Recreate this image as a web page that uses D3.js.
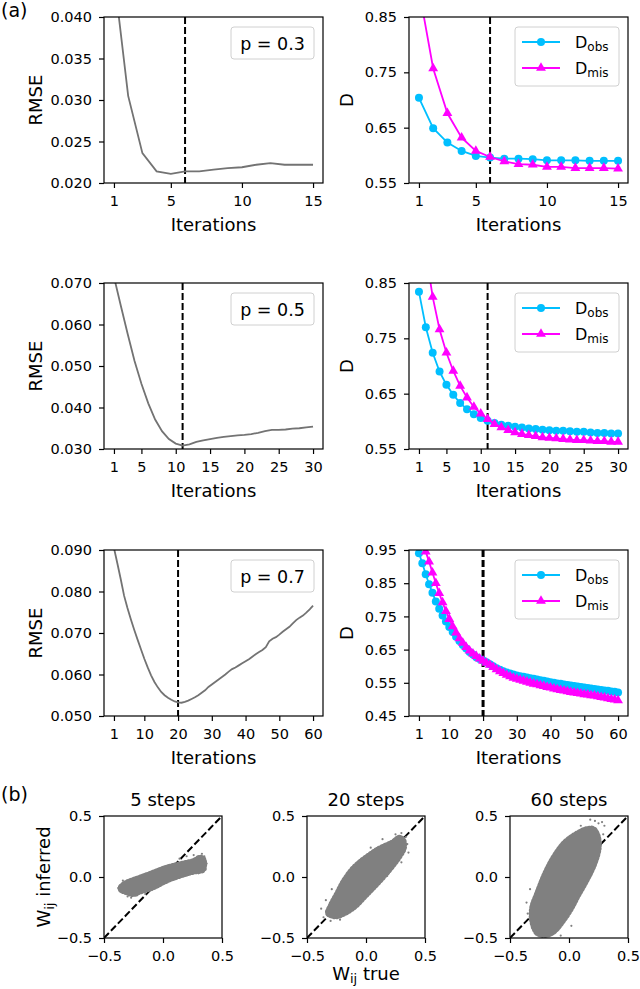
<!DOCTYPE html>
<html>
<head>
<meta charset="utf-8">
<script src="https://d3js.org/d3.v7.min.js"></script>
<style>
  body { margin: 0; background: #fff; }
  svg text { fill: #000; }
</style>
</head>
<body>
<script>
// ---------- values ----------
// (a) p = 0.3, 15 iterations
var rmseP3 = [0.0450, 0.0305, 0.0236, 0.0214, 0.0211, 0.0214, 0.0214, 0.0216, 0.0218, 0.0219, 0.0222, 0.0224, 0.0222, 0.0222, 0.0222];
var dObsP3 = [0.704, 0.649, 0.623, 0.608, 0.599, 0.596, 0.594, 0.594, 0.593, 0.591, 0.591, 0.591, 0.590, 0.590, 0.590];
var dMisP3 = [0.900, 0.757, 0.676, 0.632, 0.608, 0.597, 0.589, 0.584, 0.583, 0.579, 0.579, 0.577, 0.577, 0.577, 0.576];

// (a) p = 0.5, 30 iterations
var rmseP5 = [0.0715, 0.0645, 0.0577, 0.0512, 0.0457, 0.0410, 0.0371, 0.0343, 0.0324, 0.0313,
              0.0308, 0.0311, 0.0317, 0.0321, 0.0324, 0.0327, 0.0329, 0.0331, 0.0333, 0.0334,
              0.0336, 0.0339, 0.0343, 0.0346, 0.0346, 0.0347, 0.0349, 0.0350, 0.0352, 0.0354];
var dObsP5 = [0.834, 0.770, 0.724, 0.690, 0.666, 0.648, 0.633, 0.622, 0.613, 0.606,
              0.601, 0.597, 0.594, 0.592, 0.590, 0.589, 0.587, 0.586, 0.585, 0.584,
              0.583, 0.583, 0.582, 0.581, 0.581, 0.580, 0.579, 0.579, 0.578, 0.578];
var dMisP5 = [1.000, 0.905, 0.825, 0.766, 0.724, 0.691, 0.664, 0.643, 0.626, 0.614,
              0.604, 0.595, 0.589, 0.584, 0.580, 0.577, 0.575, 0.573, 0.571, 0.570,
              0.569, 0.568, 0.567, 0.566, 0.566, 0.565, 0.564, 0.564, 0.563, 0.563];

// (a) p = 0.7, 60 iterations
var rmseP7 = [0.0905, 0.0868, 0.0830, 0.0790, 0.0760, 0.0733, 0.0708, 0.0684, 0.0661, 0.0638,
              0.0617, 0.0598, 0.0582, 0.0569, 0.0558, 0.0550, 0.0544, 0.0539, 0.0535, 0.0533,
              0.0532, 0.0534, 0.0537, 0.0541, 0.0545, 0.0550, 0.0556, 0.0562, 0.0570, 0.0576,
              0.0582, 0.0588, 0.0594, 0.0600, 0.0607, 0.0613, 0.0617, 0.0622, 0.0627, 0.0632,
              0.0637, 0.0643, 0.0649, 0.0654, 0.0659, 0.0666, 0.0680, 0.0686, 0.0690, 0.0696,
              0.0703, 0.0709, 0.0715, 0.0723, 0.0731, 0.0737, 0.0742, 0.0749, 0.0757, 0.0766];
var dObsP7 = [0.940, 0.910, 0.877, 0.847, 0.821, 0.795, 0.773, 0.753, 0.735, 0.718,
              0.703, 0.689, 0.676, 0.664, 0.653, 0.643, 0.635, 0.627, 0.622, 0.617,
              0.612, 0.606, 0.600, 0.594, 0.589, 0.585, 0.581, 0.578, 0.575, 0.572,
              0.570, 0.568, 0.566, 0.564, 0.562, 0.560, 0.558, 0.556, 0.554, 0.552,
              0.550, 0.548, 0.547, 0.545, 0.543, 0.542, 0.540, 0.539, 0.537, 0.536,
              0.534, 0.533, 0.531, 0.530, 0.528, 0.527, 0.526, 0.524, 0.523, 0.521];
var dMisP7 = [1.030, 0.985, 0.945, 0.915, 0.882, 0.850, 0.820, 0.792, 0.766, 0.742,
              0.720, 0.701, 0.684, 0.670, 0.657, 0.647, 0.638, 0.630, 0.623, 0.616,
              0.610, 0.604, 0.597, 0.590, 0.584, 0.579, 0.574, 0.569, 0.565, 0.562,
              0.559, 0.556, 0.553, 0.550, 0.547, 0.545, 0.542, 0.540, 0.537, 0.535,
              0.532, 0.530, 0.528, 0.526, 0.524, 0.522, 0.520, 0.519, 0.517, 0.515,
              0.514, 0.512, 0.511, 0.509, 0.507, 0.505, 0.503, 0.501, 0.499, 0.497];

var cutoffs = [6, 11, 20];
var pLabels = ["p = 0.3", "p = 0.5", "p = 0.7"];

var xTicks15 = [1, 5, 10, 15];
var xTicks30 = [1, 5, 10, 15, 20, 25, 30];
var xTicks60 = [1, 10, 20, 30, 40, 50, 60];
var rmseTicksP3 = [0.020, 0.025, 0.030, 0.035, 0.040];
var rmseTicksP5 = [0.030, 0.040, 0.050, 0.060, 0.070];
var rmseTicksP7 = [0.050, 0.060, 0.070, 0.080, 0.090];
var dTicksP3 = [0.55, 0.65, 0.75, 0.85];
var dTicksP5 = [0.55, 0.65, 0.75, 0.85];
var dTicksP7 = [0.45, 0.55, 0.65, 0.75, 0.85, 0.95];

// (b) scatter clouds: outline of the dense grey core + loose points around it, [W true, W inferred]
var scatterTitles = ["5 steps", "20 steps", "60 steps"];
var scatterTicks = [-0.5, 0.0, 0.5];
var diagLine = [[-0.5, -0.5], [0.5, 0.5]];

var cloud5 = [[-0.364, -0.079], [-0.308, -0.038], [-0.195, 0.003], [-0.082, 0.044], [0.031, 0.085],
              [0.144, 0.112], [0.257, 0.139], [0.314, 0.167], [0.347, 0.153], [0.356, 0.085],
              [0.342, 0.052], [0.257, 0.035], [0.144, 0.003], [0.031, -0.038], [-0.082, -0.093],
              [-0.195, -0.128], [-0.251, -0.148], [-0.308, -0.134], [-0.364, -0.107]];
var dots5 = [[-0.38, -0.09], [-0.36, -0.12], [-0.34, -0.03], [-0.30, -0.16], [-0.27, -0.17],
             [-0.22, -0.15], [0.33, 0.19], [0.35, 0.17], [0.37, 0.11], [0.36, 0.06],
             [0.30, 0.03], [0.14, 0.15], [0.20, 0.17], [-0.15, -0.14], [0.26, 0.18]];

var cloud20 = [[-0.33, -0.30], [-0.30, -0.22], [-0.25, -0.13], [-0.195, -0.03], [-0.11, 0.08],
               [0.0, 0.17], [0.11, 0.24], [0.22, 0.29], [0.28, 0.33], [0.32, 0.31],
               [0.33, 0.24], [0.28, 0.15], [0.20, 0.05], [0.10, -0.06], [0.0, -0.16],
               [-0.08, -0.24], [-0.17, -0.30], [-0.26, -0.33]];
var dots20 = [[-0.36, -0.33], [-0.38, -0.26], [-0.30, -0.36], [-0.34, -0.19], [-0.22, -0.35],
              [0.30, 0.36], [0.34, 0.33], [0.35, 0.27], [0.25, 0.35], [0.36, 0.20],
              [0.14, 0.31], [0.04, 0.24], [-0.29, -0.10], [0.30, 0.12], [0.18, 0.01]];

var cloud60 = [[-0.28, -0.46], [-0.32, -0.36], [-0.32, -0.25], [-0.28, -0.14], [-0.20, 0.05],
               [-0.12, 0.19], [-0.04, 0.29], [0.06, 0.36], [0.15, 0.40], [0.21, 0.40],
               [0.25, 0.34], [0.26, 0.24], [0.22, 0.10], [0.15, -0.04], [0.08, -0.16],
               [0.02, -0.27], [-0.05, -0.37], [-0.12, -0.45], [-0.18, -0.48], [-0.24, -0.48]];
var dots60 = [[0.22, 0.46], [0.25, 0.44], [0.28, 0.45], [0.18, 0.47], [0.30, 0.42],
              [0.29, 0.35], [0.27, 0.28], [-0.35, -0.30], [-0.36, -0.21], [-0.31, -0.42],
              [-0.20, -0.49], [-0.07, -0.48], [0.02, -0.40], [-0.33, -0.10], [0.10, 0.42], [0.24, 0.18]];

// ---------- layout ----------
var rowTops = [17, 283, 550], rowH = 166;
var leftX = 104, rightX = 409, panelW = 219;
var grey = "#737373", blue = "#00bfff", magenta = "#ff00ff";

var svg = d3.select("body").append("svg")
	.attr("width", 640).attr("height", 989)
	.style("font-family", "'DejaVu Sans', sans-serif");
var defs = svg.append("defs");
var clipCount = 0;

function makeAxes(x0, y0, w, h) {
	var id = "clip" + (clipCount++);
	defs.append("clipPath").attr("id", id).append("rect").attr("width", w).attr("height", h);
	var g = svg.append("g").attr("transform", "translate(" + x0 + "," + y0 + ")");
	var plot = g.append("g").attr("clip-path", "url(#" + id + ")");
	return {g: g, plot: plot, w: w, h: h};
}

function finishAxes(ax, x, y, xTicks, yTicks, xFmt, yFmt) {
	var gx = ax.g.append("g").attr("transform", "translate(0," + ax.h + ")")
		.call(d3.axisBottom(x).tickValues(xTicks).tickFormat(xFmt).tickSize(5).tickPadding(8));
	var gy = ax.g.append("g")
		.call(d3.axisLeft(y).tickValues(yTicks).tickFormat(yFmt).tickSize(5).tickPadding(7));
	[gx, gy].forEach(function(a) {
		a.attr("font-family", null).attr("font-size", null);
		a.select(".domain").remove();
		a.selectAll(".tick line").attr("stroke", "#000").attr("stroke-width", 1.2);
		a.selectAll(".tick text").attr("fill", "#000").style("font-size", "14.5px");
	});
	// frame (all four spines)
	ax.g.append("rect").attr("width", ax.w).attr("height", ax.h)
		.attr("fill", "none").attr("stroke", "#000").attr("stroke-width", 1.2);
}

// x scale with matplotlib's 5% margin
function iterScale(n, w) {
	var pad = (n - 1) * 0.05;
	return d3.scaleLinear().domain([1 - pad, n + pad]).range([0, w]);
}

function vLabel(x, y, str) {
	svg.append("text")
		.attr("transform", "translate(" + x + "," + y + ") rotate(-90)")
		.attr("text-anchor", "middle").style("font-size", "18px").text(str);
}

var rows = [
	{n: 15, rmse: rmseP3, obs: dObsP3, mis: dMisP3, rT: rmseTicksP3, dT: dTicksP3, xT: xTicks15},
	{n: 30, rmse: rmseP5, obs: dObsP5, mis: dMisP5, rT: rmseTicksP5, dT: dTicksP5, xT: xTicks30},
	{n: 60, rmse: rmseP7, obs: dObsP7, mis: dMisP7, rT: rmseTicksP7, dT: dTicksP7, xT: xTicks60}
];

rows.forEach(function(r, i) {
	var top = rowTops[i];
	var idx = d3.range(1, r.n + 1);
	var x = iterScale(r.n, panelW);

	// ----- RMSE panel -----
	var axL = makeAxes(leftX, top, panelW, rowH);
	var yL = d3.scaleLinear().domain(d3.extent(r.rT)).range([rowH, 0]);

	axL.plot.append("line")
		.attr("x1", x(cutoffs[i])).attr("x2", x(cutoffs[i]))
		.attr("y1", 0).attr("y2", rowH)
		.attr("stroke", "#000").attr("stroke-width", 2).attr("stroke-dasharray", "7,3");

	axL.plot.append("path")
		.datum(idx)
		.attr("fill", "none").attr("stroke", grey).attr("stroke-width", 1.8)
		.attr("d", d3.line().x(function(d) { return x(d); }).y(function(d) { return yL(r.rmse[d - 1]); }));

	// p box
	axL.g.append("rect")
		.attr("x", panelW - 92).attr("y", 10).attr("width", 83).attr("height", 32)
		.attr("rx", 3).attr("fill", "#fff").attr("fill-opacity", 0.8)
		.attr("stroke", "#d0d0d0").attr("stroke-width", 1);
	axL.g.append("text")
		.attr("x", panelW - 50.5).attr("y", 32.5)
		.attr("text-anchor", "middle").style("font-size", "17.5px")
		.text(pLabels[i]);

	finishAxes(axL, x, yL, r.xT, r.rT, d3.format("d"), d3.format(".3f"));
	vLabel(42, top + rowH / 2, "RMSE");
	svg.append("text").attr("x", leftX + panelW / 2).attr("y", top + rowH + 48)
		.attr("text-anchor", "middle").style("font-size", "18px").text("Iterations");

	// ----- D panel -----
	var axR = makeAxes(rightX, top, panelW, rowH);
	var yR = d3.scaleLinear().domain(d3.extent(r.dT)).range([rowH, 0]);

	axR.plot.append("line")
		.attr("x1", x(cutoffs[i])).attr("x2", x(cutoffs[i]))
		.attr("y1", 0).attr("y2", rowH)
		.attr("stroke", "#000").attr("stroke-width", i === 2 ? 3 : 2).attr("stroke-dasharray", "7,3");

	var series = [
		{vals: r.obs, color: blue, shape: "circle"},
		{vals: r.mis, color: magenta, shape: "triangle"}
	];
	series.forEach(function(s) {
		axR.plot.append("path")
			.datum(idx)
			.attr("fill", "none").attr("stroke", s.color).attr("stroke-width", 1.8)
			.attr("d", d3.line().x(function(d) { return x(d); }).y(function(d) { return yR(s.vals[d - 1]); }));
		if (s.shape === "circle") {
			axR.plot.selectAll(null).data(idx).enter().append("circle")
				.attr("cx", function(d) { return x(d); })
				.attr("cy", function(d) { return yR(s.vals[d - 1]); })
				.attr("r", 4).attr("fill", s.color);
		} else {
			axR.plot.selectAll(null).data(idx).enter().append("path")
				.attr("transform", function(d) { return "translate(" + x(d) + "," + yR(s.vals[d - 1]) + ")"; })
				.attr("d", d3.symbol().type(d3.symbolTriangle).size(42)())
				.attr("fill", s.color);
		}
	});

	// legend
	var lg = axR.g.append("g");
	lg.append("rect")
		.attr("x", panelW - 113).attr("y", 10).attr("width", 104).attr("height", 59)
		.attr("rx", 3).attr("fill", "#fff").attr("fill-opacity", 0.8)
		.attr("stroke", "#d0d0d0").attr("stroke-width", 1);
	[{name: "obs", color: blue, shape: "circle", y: 25},
	 {name: "mis", color: magenta, shape: "triangle", y: 51}].forEach(function(e) {
		lg.append("line")
			.attr("x1", panelW - 106).attr("x2", panelW - 68)
			.attr("y1", e.y).attr("y2", e.y)
			.attr("stroke", e.color).attr("stroke-width", 1.8);
		if (e.shape === "circle") {
			lg.append("circle").attr("cx", panelW - 87).attr("cy", e.y).attr("r", 4).attr("fill", e.color);
		} else {
			lg.append("path").attr("transform", "translate(" + (panelW - 87) + "," + e.y + ")")
				.attr("d", d3.symbol().type(d3.symbolTriangle).size(42)()).attr("fill", e.color);
		}
		var t = lg.append("text").attr("x", panelW - 53).attr("y", e.y + 6);
		t.append("tspan").style("font-size", "16px").text("D");
		t.append("tspan").attr("dy", 3).style("font-size", "12px").text(e.name);
	});

	finishAxes(axR, x, yR, r.xT, r.dT, d3.format("d"), d3.format(".2f"));
	vLabel(353, top + rowH / 2, "D");
	svg.append("text").attr("x", rightX + panelW / 2).attr("y", top + rowH + 48)
		.attr("text-anchor", "middle").style("font-size", "18px").text("Iterations");
});

// ---------- (b) scatter panels ----------
var scatLeft = [104, 307, 510], scatTop = 816, scatW = 118, scatH = 122;
var scatters = [
	{title: scatterTitles[0], cloud: cloud5, dots: dots5},
	{title: scatterTitles[1], cloud: cloud20, dots: dots20},
	{title: scatterTitles[2], cloud: cloud60, dots: dots60}
];

scatters.forEach(function(s, i) {
	var ax = makeAxes(scatLeft[i], scatTop, scatW, scatH);
	var sx = d3.scaleLinear().domain([-0.5, 0.5]).range([0, scatW]);
	var sy = d3.scaleLinear().domain([-0.5, 0.5]).range([scatH, 0]);

	ax.plot.append("path")
		.datum(diagLine)
		.attr("fill", "none").attr("stroke", "#000").attr("stroke-width", 2).attr("stroke-dasharray", "7,3")
		.attr("d", d3.line().x(function(d) { return sx(d[0]); }).y(function(d) { return sy(d[1]); }));

	var cloudLine = d3.line().curve(d3.curveCatmullRomClosed)
		.x(function(d) { return sx(d[0]); }).y(function(d) { return sy(d[1]); });
	ax.plot.append("path")
		.datum(s.cloud)
		.attr("fill", "#808080").attr("stroke", "#808080").attr("stroke-width", 1.5)
		.attr("stroke-linejoin", "round")
		.attr("d", cloudLine);
	// speckled rim so the edge of the cloud looks like loose dots
	ax.plot.append("path")
		.datum(s.cloud)
		.attr("fill", "none").attr("stroke", "#808080").attr("stroke-width", 4)
		.attr("stroke-dasharray", "1.3,2.1").attr("stroke-linecap", "round")
		.attr("d", cloudLine);

	ax.plot.selectAll(null).data(s.dots).enter().append("circle")
		.attr("cx", function(d) { return sx(d[0]); })
		.attr("cy", function(d) { return sy(d[1]); })
		.attr("r", 1.1).attr("fill", "#808080");

	finishAxes(ax, sx, sy, scatterTicks, scatterTicks, d3.format(".1f"), d3.format(".1f"));

	svg.append("text").attr("x", scatLeft[i] + scatW / 2).attr("y", 806)
		.attr("text-anchor", "middle").style("font-size", "18px").text(s.title);
});

// axis labels with subscripts
var yl = svg.append("text")
	.attr("transform", "translate(50," + (scatTop + scatH / 2) + ") rotate(-90)")
	.attr("text-anchor", "middle");
yl.append("tspan").style("font-size", "18px").text("W");
yl.append("tspan").attr("dy", 4).style("font-size", "13px").text("ij");
yl.append("tspan").attr("dy", -4).style("font-size", "18px").text(" inferred");

var xl = svg.append("text")
	.attr("x", scatLeft[1] + scatW / 2).attr("y", 980)
	.attr("text-anchor", "middle");
xl.append("tspan").style("font-size", "18px").text("W");
xl.append("tspan").attr("dy", 3).style("font-size", "13px").text("ij");
xl.append("tspan").attr("dy", -3).style("font-size", "18px").text(" true");

// panel letters
svg.append("text").attr("x", 1).attr("y", 17).style("font-size", "19px").text("(a)");
svg.append("text").attr("x", 1).attr("y", 801).style("font-size", "19px").text("(b)");
</script>
</body>
</html>
